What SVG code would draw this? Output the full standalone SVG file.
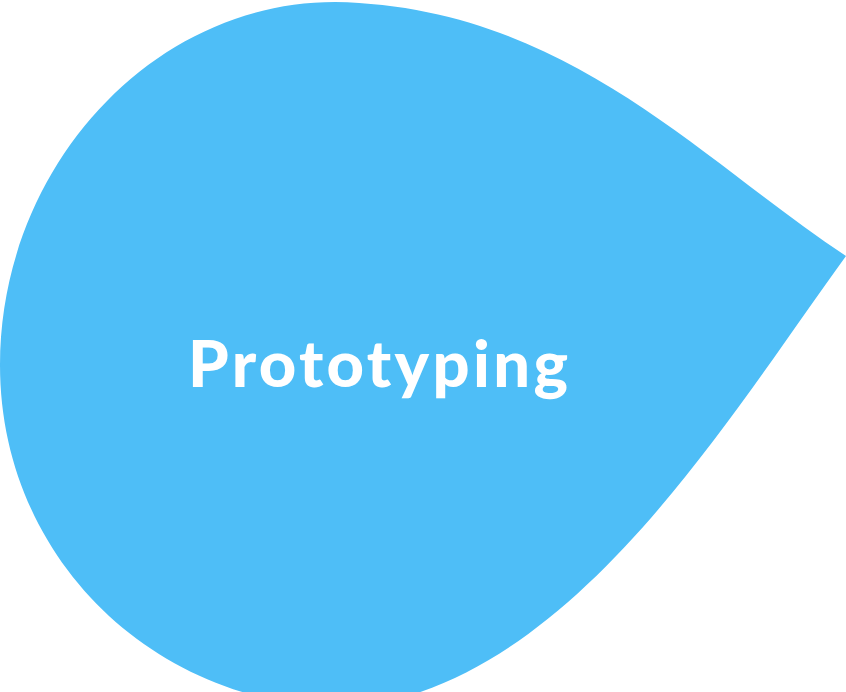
<svg xmlns="http://www.w3.org/2000/svg" width="846" height="692" viewBox="0 0 846 692">
<style>
.drop{fill:#4EBEF7;}
.lbl{font-family:Lato,"Open Sans","Liberation Sans",sans-serif;font-weight:900;font-size:65px;fill:#FFFFFF;}
</style>
<rect width="846" height="692" fill="#FFFFFF"/>
<g id="prototyping">
<path class="drop" d="M846,256 C700,160 565,6 335,2 C150,2 0,170 0,365 C0,555 150,705 345,708 C565,690 720,430 846,256 Z"/>
<text class="lbl" x="188" y="387" textLength="380" lengthAdjust="spacing">Prototyping</text>
</g>
<g id="connectors"/>
</svg>
